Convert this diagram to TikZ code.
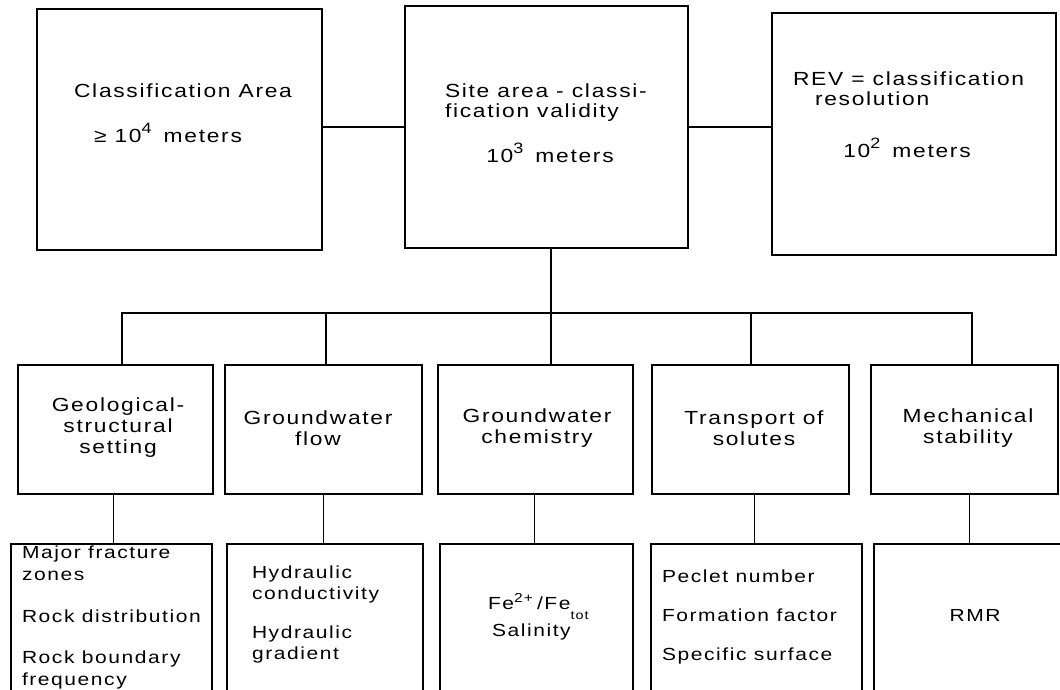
\documentclass[tikz,border=0pt]{standalone}
\usepackage{fontspec}
\setmainfont[FakeStretch=1.2,LetterSpace=9]{Liberation Sans}
\begin{document}
\begin{tikzpicture}[x=1pt,y=-1pt,
  box/.style={draw=black,line width=1.1pt,inner sep=0pt,outer sep=0pt},
  big/.style={inner sep=0pt,outer sep=0pt,font=\fontsize{19}{21}\selectfont},
  small/.style={inner sep=0pt,outer sep=0pt,font=\fontsize{17.5}{21}\selectfont},
  conn/.style={draw=black,line width=1.1pt}]
\useasboundingbox (0,0) rectangle (1060,690);
\fill[white] (0,0) rectangle (1060,690);

% top row
\node[box,minimum width=285pt,minimum height=241pt] (t1) at (179.5,129.5) {};
\node[box,minimum width=283pt,minimum height=242pt] (t2) at (546.5,127) {};
\node[box,minimum width=284pt,minimum height=242pt] (t3) at (914,134) {};

\node[big,anchor=mid] (t1a) at (183,95) {Classification Area};
\node[big,anchor=mid] (t1b) at (168,140) {≥ 10\raisebox{9pt}{\fontsize{15}{15}\selectfont 4}\hspace{12pt}meters};

\node[big,anchor=mid west] (t2a) at (445,95) {Site area - classi-};
\node[big,anchor=mid west] (t2b) at (445,115) {fication validity};
\node[big,anchor=mid] (t2c) at (550,160) {10\raisebox{9pt}{\fontsize{15}{15}\selectfont 3}\hspace{12pt}meters};

\node[big,anchor=mid west] (t3a) at (793,83) {REV = classification};
\node[big,anchor=mid west] (t3b) at (815,103) {resolution};
\node[big,anchor=mid] (t3c) at (907,155) {10\raisebox{9pt}{\fontsize{15}{15}\selectfont 2}\hspace{12pt}meters};

% second row
\node[box,minimum width=195pt,minimum height=129pt] (a) at (115.5,429.5) {};
\node[box,minimum width=197pt,minimum height=129pt] (b) at (323.5,429.5) {};
\node[box,minimum width=195pt,minimum height=129pt] (c) at (535.5,429.5) {};
\node[box,minimum width=197pt,minimum height=129pt] (d) at (750.5,429.5) {};
\node[box,minimum width=187pt,minimum height=129pt] (e) at (964.5,429.5) {};

\node[big,align=center] (at) at (118,428) {Geological-\\structural\\setting};
\node[big,align=center] (bt) at (318,428) {Groundwater\\flow};
\node[big,align=center] (ct) at (537,428) {Groundwater\\chemistry};
\node[big,align=center] (dt) at (754,428) {Transport of\\solutes};
\node[big,align=center] (et) at (968,428) {Mechanical\\stability};

% bottom row (cut off by the page edge)
\begin{scope}
\clip (0,0) rectangle (1060,690);
\node[box,minimum width=201pt,minimum height=156pt] (a2) at (111.5,622) {};
\node[box,minimum width=196pt,minimum height=156pt] (b2) at (325,622) {};
\node[box,minimum width=193pt,minimum height=156pt] (c2) at (536.5,622) {};
\node[box,minimum width=211pt,minimum height=156pt] (d2) at (756.5,622) {};
\node[box,minimum width=188pt,minimum height=156pt] (e2) at (968,622) {};
\end{scope}

\node[small,anchor=mid west] (a2a) at (22,556) {Major fracture};
\node[small,anchor=mid west] (a2b) at (22,578) {zones};
\node[small,anchor=mid west] (a2c) at (22,620) {Rock distribution};
\node[small,anchor=mid west] (a2d) at (22,661) {Rock boundary};
\node[small,anchor=mid west] (a2e) at (22,683) {frequency};

\node[small,anchor=mid west] (b2a) at (252,576) {Hydraulic};
\node[small,anchor=mid west] (b2b) at (252,597) {conductivity};
\node[small,anchor=mid west] (b2c) at (252,636) {Hydraulic};
\node[small,anchor=mid west] (b2d) at (252,657) {gradient};

\node[small,anchor=mid west] (c2a) at (488,607) {Fe\raisebox{7pt}{\fontsize{13}{13}\selectfont 2+}\hspace{4pt}/Fe\raisebox{-10pt}{\fontsize{12}{12}\selectfont tot}};
\node[small,anchor=mid west] (c2b) at (492,634) {Salinity};

\node[small,anchor=mid west] (d2a) at (662,580) {Peclet number};
\node[small,anchor=mid west] (d2b) at (662,619) {Formation factor};
\node[small,anchor=mid west] (d2c) at (662,658) {Specific surface};

\node[small,anchor=mid] (e2a) at (975,619) {RMR};

% connectors
\coordinate (hub) at (551,313);
\coordinate (ja) at (122,313);
\coordinate (jb) at (326,313);
\coordinate (jd) at (751,313);
\coordinate (je) at (972,313);
\draw[conn] (t1.east |- t2.west) -- (t2.west);
\draw[conn] (t2.east) -- (t3.west |- t2.east);
\draw[conn] (hub |- t2.south) -- (hub |- c.north);
\draw[conn] (ja |- a.north) -- (ja) -- (je) -- (je |- e.north);
\draw[conn] (jb) -- (jb |- b.north);
\draw[conn] (jd) -- (jd |- d.north);
\draw[conn] ([xshift=-2pt]a.south) -- ([xshift=-2pt]a.south |- a2.north);
\draw[conn] (b.south) -- (b.south |- b2.north);
\draw[conn] ([xshift=-1pt]c.south) -- ([xshift=-1pt]c.south |- c2.north);
\draw[conn] ([xshift=4pt]d.south) -- ([xshift=4pt]d.south |- d2.north);
\draw[conn] ([xshift=5pt]e.south) -- ([xshift=5pt]e.south |- e2.north);
\end{tikzpicture}
\end{document}
